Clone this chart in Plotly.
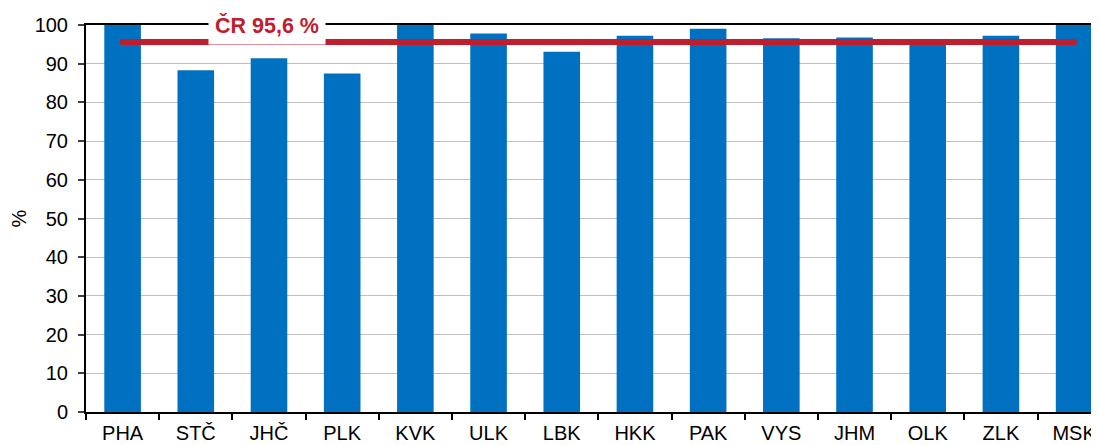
import plotly.graph_objects as go

regions = ["PHA", "STČ", "JHČ", "PLK", "KVK", "ULK", "LBK",
           "HKK", "PAK", "VYS", "JHM", "OLK", "ZLK", "MSK"]
values = [100.0, 88.3, 91.4, 87.5, 100.0, 97.8, 93.1,
          97.2, 99.0, 96.6, 96.8, 95.8, 97.2, 100.0]
cr_value = 95.6
cr_label = "ČR 95,6 %"
y_ticks = list(range(0, 101, 10))

BLUE = "#0070C0"
RED = "#BE1E2D"
FONT = "Liberation Sans, Arial, sans-serif"

fig = go.Figure()
fig.add_trace(go.Bar(x=regions, y=values, marker=dict(color=BLUE, line=dict(width=0)),
                     width=0.5, showlegend=False))
fig.add_trace(go.Scatter(x=regions, y=[cr_value] * len(regions), mode="lines+markers",
                         line=dict(color=RED, width=6), marker=dict(color=RED, size=6),
                         showlegend=False, hoverinfo="skip"))

fig.add_annotation(x=1.97, y=100, xref="x", yref="y", text="<b>" + cr_label + "</b>",
                   showarrow=False, font=dict(family=FONT, size=21.5, color=RED),
                   bgcolor="white", borderpad=6, xanchor="center", yanchor="middle")

# The page body has an 8 px margin, so the figure is sized to end at the window edge.
fig.update_layout(
    width=1091, height=437,
    margin=dict(l=78, r=0, t=17, b=33, autoexpand=False),
    plot_bgcolor="white", paper_bgcolor="white",
    font=dict(family=FONT, size=20, color="black"),
    bargap=0.5,
)
fig.update_xaxes(type="category", range=[-0.5, 13.34], tickson="boundaries",
                 ticks="outside", ticklen=6, tickwidth=2, tickcolor="black",
                 showline=True, linecolor="black", linewidth=2, mirror=True,
                 showgrid=False, tickfont=dict(size=20), ticklabelstandoff=2,
                 automargin=False)
fig.update_yaxes(range=[0, 100], tickvals=y_ticks, ticks="outside", ticklen=6,
                 tickwidth=2, tickcolor="#404040", showline=True, linecolor="black",
                 linewidth=2, showgrid=True, gridcolor="#C0C0C0", gridwidth=1,
                 zeroline=False, tickfont=dict(size=20), ticklabelstandoff=6,
                 automargin=False,
                 title=dict(text="%", font=dict(size=20), standoff=8))

fig.write_html("out.html")
